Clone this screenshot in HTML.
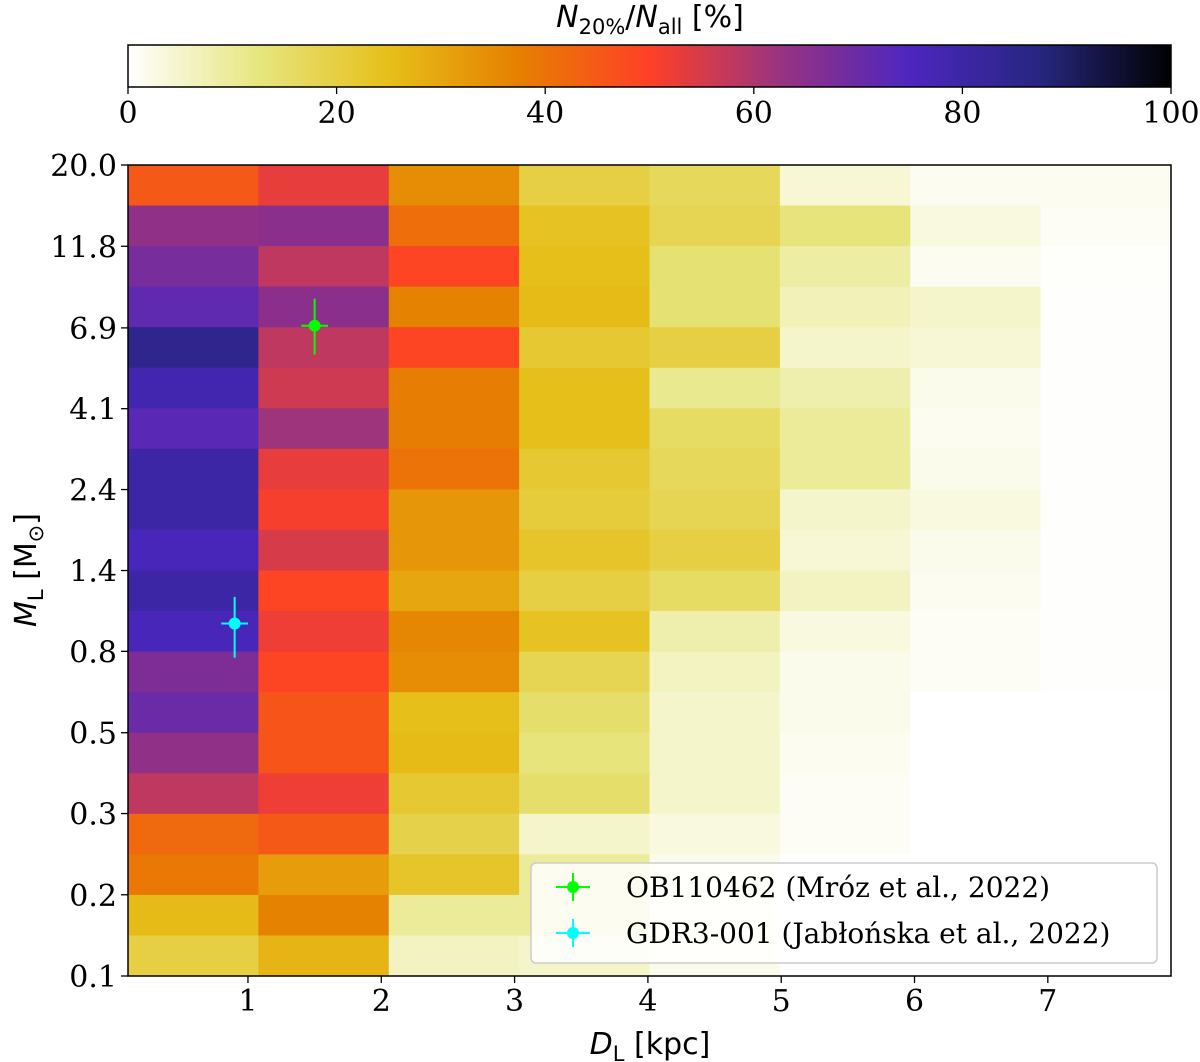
<!DOCTYPE html>
<html><head><meta charset="utf-8"><style>
html,body{margin:0;padding:0;background:#fff;}
svg{display:block;}
.tk{font-family:"DejaVu Serif","Liberation Serif",serif;font-size:30px;fill:#000;}
.lb{font-family:"DejaVu Sans","Liberation Sans",sans-serif;font-size:30px;fill:#000;}
.lg{font-family:"DejaVu Serif","Liberation Serif",serif;font-size:28px;fill:#000;}
</style></head><body>
<svg id="chart" width="1200" height="1062" xmlns="http://www.w3.org/2000/svg"></svg>
<script>
const distBins=[0.1,1.078,2.056,3.034,4.012,4.99,5.968,6.946,7.924];
const massTicks=[0.1,0.17,0.289,0.49,0.834,1.414,2.4,4.07,6.9,11.76,20.0];
const massTickLabels=["0.1","0.2","0.3","0.5","0.8","1.4","2.4","4.1","6.9","11.8","20.0"];
const distTicks=[1,2,3,4,5,6,7];
const cbTicks=[0,20,40,60,80,100];
// values: rows top (high mass) to bottom, columns by distance bin
const col1=[45,64,68,72,85,78,73,80,80,76,80,76,67,70,64,58,42,39,26,20];
const col2=[53,65,58,65,58,56,62,53,51,55,49,52,49,46,46,52,45,32,37,27];
const col3=[35,41,49,37,49,38,38,40,33,33,30,36,35,25,26,22,19,23,10,6];
const col4=[20,24,25,26,22,25,25,22,21,23,20,24,18,15,13,15,5,10,10,5];
const col5=[17,18,14,14,20,11,16,17,18,20,16,8,6,5,5,5,3,2,2,2];
const col6=[4,13,9,7,5,8,10,10,5,4,6,3,2,2,1.5,1,1,0,0,0];
const col7=[1.5,3,1.5,5,4,2,1.5,2,3,2,1.5,1,1,0,0,0,0,0,0,0];
const col8=[1.5,1,0.5,0.3,0.3,0.3,0.3,0.3,0.3,0.3,0.3,0.3,0.3,0,0,0,0,0,0,0];
const columns=[col1,col2,col3,col4,col5,col6,col7,col8];
const pointNames=["OB110462 (Mróz et al., 2022)","GDR3-001 (Jabłońska et al., 2022)"];
const pointD=[1.5,0.9];
const pointDerr=[0.1,0.1];
const pointM=[7.0,1.0];
const pointMlo=[5.8,0.8];
const pointMhi=[8.35,1.19];
const pointColors=["#00ff00","#00ffff"];

const NS="http://www.w3.org/2000/svg";
const svg=document.getElementById('chart');
function mk(t,a,p){const e=document.createElementNS(NS,t);for(const k in a)e.setAttribute(k,a[k]);(p||svg).appendChild(e);return e;}
const X0=128,X1=1171,Y0=165,Y1=976;
const dMin=0.1,dMax=7.924,mMin=0.1,mMax=20;
const xS=d=>X0+(d-dMin)/(dMax-dMin)*(X1-X0);
const yS=m=>Y1-Math.log(m/mMin)/Math.log(mMax/mMin)*(Y1-Y0);
const cm=[[0,0,0],[.15,.15,.5],[.3,.15,.75],[.6,.2,.5],[1,.25,.15],[.9,.5,0],[.9,.75,.1],[.9,.9,.5],[1,1,1]];
function cmap(v){let t=1-Math.max(0,Math.min(100,v))/100;let f=t*8;let i=Math.min(7,Math.floor(f));let r=f-i;
 const a=cm[i],b=cm[i+1];return 'rgb('+[0,1,2].map(k=>Math.round((a[k]+(b[k]-a[k])*r)*255)).join(',')+')';}
const CX0=128,CX1=1171,CY0=45,CY1=87;
const defs=mk('defs',{});const g=mk('linearGradient',{id:'cbg',x1:0,x2:1,y1:0,y2:0},defs);
for(let i=0;i<=40;i++){mk('stop',{offset:i/40,'stop-color':cmap(i*2.5)},g);}
const cb=mk('rect',{x:CX0,y:CY0,width:CX1-CX0,height:CY1-CY0,fill:'url(#cbg)',stroke:'#000','stroke-width':1.5});


cbTicks.forEach(v=>{const x=CX0+v/100*(CX1-CX0);mk('line',{x1:x,x2:x,y1:CY1,y2:CY1+7,stroke:'#000','stroke-width':1.3});
 const t=mk('text',{x:x,y:123,'text-anchor':'middle',class:'tk'});t.textContent=v;
 
 });
const ct=mk('text',{x:650,y:27,'text-anchor':'middle',class:'lb'});
ct.innerHTML='<tspan font-style="italic">N</tspan><tspan font-size="21" dy="7">20%</tspan><tspan dy="-7">/</tspan><tspan font-style="italic">N</tspan><tspan font-size="21" dy="7">all</tspan><tspan dy="-7"> [%]</tspan>';


const nR=col1.length;
const lmin=Math.log(mMin),lmax=Math.log(mMax);
columns.forEach((col,c)=>{col.forEach((v,r)=>{
 const mTop=Math.exp(lmax-(lmax-lmin)*r/nR),mBot=Math.exp(lmax-(lmax-lmin)*(r+1)/nR);
 const x=xS(distBins[c]),w=xS(distBins[c+1])-x,y=yS(mTop),h=yS(mBot)-y;
 const e=mk('rect',{x:x,y:y,width:w+0.5,height:h+0.5,fill:cmap(v)});
 
 
});});
const fr=mk('rect',{x:X0,y:Y0,width:X1-X0,height:Y1-Y0,fill:'none',stroke:'#000','stroke-width':1.5});


distTicks.forEach(d=>{const x=xS(d);mk('line',{x1:x,x2:x,y1:Y1,y2:Y1+7,stroke:'#000','stroke-width':1.3});
 const t=mk('text',{x:x,y:1011,'text-anchor':'middle',class:'tk'});t.textContent=d;
 
 });
massTicks.forEach((m,i)=>{const y=yS(m);mk('line',{x1:X0-7,x2:X0,y1:y,y2:y,stroke:'#000','stroke-width':1.3});
 const t=mk('text',{x:117,y:y+11,'text-anchor':'end',class:'tk'});t.textContent=massTickLabels[i];
 
 });
const xt=mk('text',{x:650,y:1054,'text-anchor':'middle',class:'lb'});
xt.innerHTML='<tspan font-style="italic">D</tspan><tspan font-size="21" dy="7">L</tspan><tspan dy="-7"> [kpc]</tspan>';


const yt=mk('text',{x:0,y:0,'text-anchor':'middle',class:'lb',transform:'translate(36,570) rotate(-90)'});
yt.innerHTML='<tspan font-style="italic">M</tspan><tspan font-size="21" dy="7">L</tspan><tspan dy="-7"> [M</tspan><tspan font-size="21" dy="7">⊙</tspan><tspan dy="-7">]</tspan>';


pointD.forEach((d,i)=>{const x=xS(d),y=yS(pointM[i]),c=pointColors[i];
 const gp=mk('g',{});
 
 
 mk('line',{x1:xS(d-pointDerr[i]),x2:xS(d+pointDerr[i]),y1:y,y2:y,stroke:c,'stroke-width':2},gp);
 mk('line',{x1:x,x2:x,y1:yS(pointMhi[i]),y2:yS(pointMlo[i]),stroke:c,'stroke-width':2},gp);
 mk('circle',{cx:x,cy:y,r:6,fill:c},gp);});
const lg=mk('g',{});


mk('rect',{x:531,y:863,width:626,height:100,rx:5,fill:'#fff','fill-opacity':0.85,stroke:'#ccc','stroke-width':1.5},lg);
pointNames.forEach((n,i)=>{const y=887+i*46,c=pointColors[i];
 const en=mk('g',{},lg);
 
 
 mk('line',{x1:556,x2:590,y1:y,y2:y,stroke:c,'stroke-width':2},en);
 mk('line',{x1:573,x2:573,y1:y-14,y2:y+14,stroke:c,'stroke-width':2},en);
 mk('circle',{cx:573,cy:y,r:6,fill:c},en);
 const t=mk('text',{x:626,y:y+10,class:'lg'},en);t.textContent=n;});
</script>
</body></html>
